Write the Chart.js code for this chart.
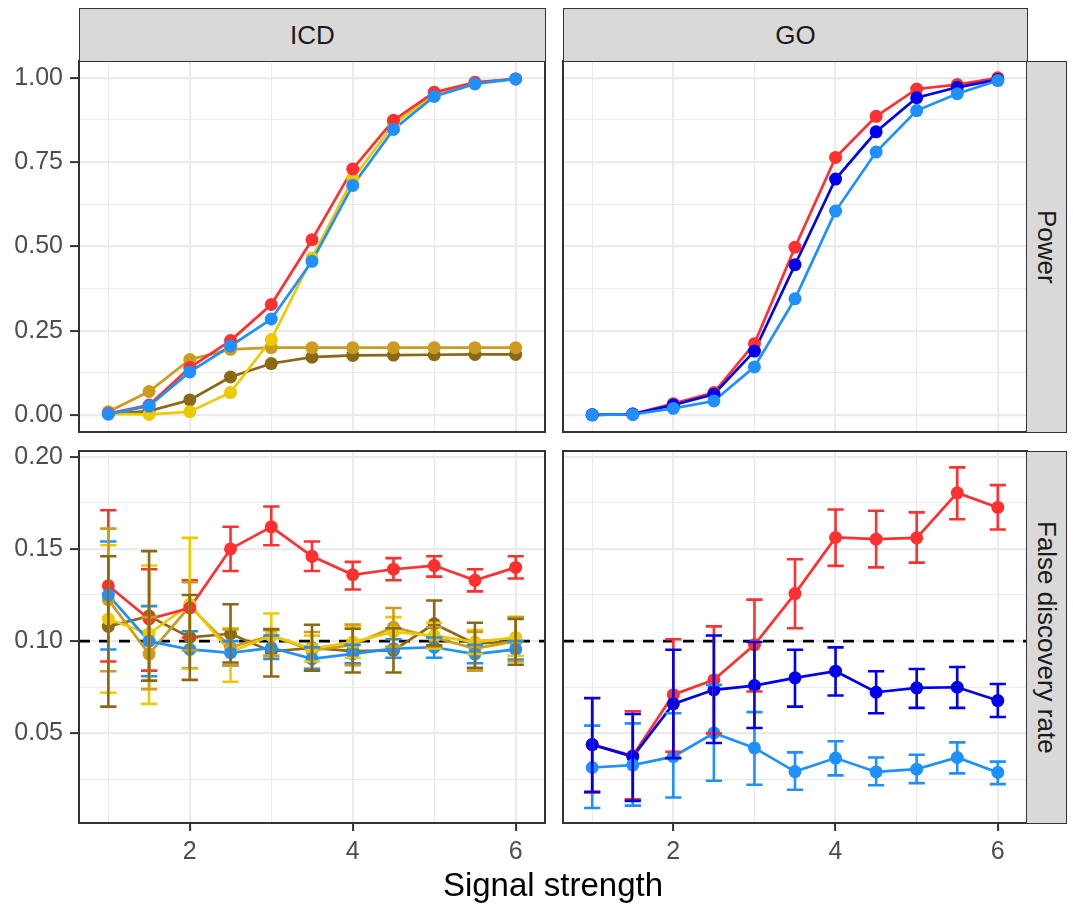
<!DOCTYPE html>
<html>
<head>
<meta charset="utf-8">
<script src="https://cdn.jsdelivr.net/npm/chart.js@4.4.1/dist/chart.umd.min.js"></script>
<style>
  body { margin: 0; background: #fff; }
  #wrap { position: relative; width: 1073px; height: 909px; font-family: 'Liberation Sans', Arial, sans-serif; }
  canvas { position: absolute; }
  .strip { position: absolute; background: #D9D9D9; border: 1.5px solid #333; box-sizing: border-box;
           color: #1A1A1A; font-size: 26px; display: flex; align-items: center; justify-content: center; }
  .vtext { writing-mode: vertical-rl; }
  #xtitle { position: absolute; left: 79px; width: 948px; top: 868px; text-align: center; font-size: 33px; line-height: 1; color: #000; }
</style>
</head>
<body>
<div id="wrap">
  <canvas id="icdPower" width="555" height="391" style="left:0;top:51px"></canvas>
  <canvas id="goPower" width="484" height="391" style="left:553px;top:51px"></canvas>
  <canvas id="icdFdr" width="555" height="432" style="left:0;top:441px"></canvas>
  <canvas id="goFdr" width="484" height="432" style="left:553px;top:441px"></canvas>
  <div class="strip" style="left:79px;top:8px;width:467px;height:54px">ICD</div>
  <div class="strip" style="left:563px;top:8px;width:465px;height:54px">GO</div>
  <div class="strip" style="left:1026px;top:61px;width:41px;height:372px"><span class="vtext">Power</span></div>
  <div class="strip" style="left:1026px;top:451px;width:41px;height:373px"><span class="vtext">False discovery rate</span></div>
  <div id="xtitle">Signal strength</div>
</div>
<script>
// signal strength values (x)
const signal = [1, 1.5, 2, 2.5, 3, 3.5, 4, 4.5, 5, 5.5, 6];
const xGrid = [1, 2, 3, 4, 5, 6];
const xLabels = [2, 4, 6];
const powerGrid = [0, 0.125, 0.25, 0.375, 0.5, 0.625, 0.75, 0.875, 1];
const powerLabels = [0, 0.25, 0.5, 0.75, 1];
const fdrGrid = [0.025, 0.05, 0.075, 0.1, 0.125, 0.15, 0.175, 0.2];
const fdrLabels = [0.05, 0.1, 0.15, 0.2];
const fdrTarget = 0.1;

// ICD power
const icdPowerRed       = [0.005, 0.030, 0.141, 0.221, 0.328, 0.520, 0.730, 0.874, 0.957, 0.987, 0.997];
const icdPowerDodger    = [0.003, 0.027, 0.128, 0.205, 0.285, 0.456, 0.681, 0.847, 0.945, 0.982, 0.997];
const icdPowerGold      = [0.004, 0.002, 0.010, 0.067, 0.224, 0.466, 0.700, 0.862, 0.950, 0.985, 0.997];
const icdPowerGoldenrod = [0.010, 0.070, 0.165, 0.195, 0.200, 0.200, 0.200, 0.200, 0.200, 0.200, 0.200];
const icdPowerBrown     = [0.004, 0.012, 0.045, 0.113, 0.153, 0.172, 0.177, 0.178, 0.179, 0.180, 0.180];

// GO power
const goPowerRed    = [0.001, 0.003, 0.034, 0.067, 0.212, 0.498, 0.764, 0.886, 0.967, 0.980, 1.000];
const goPowerBlue   = [0.001, 0.003, 0.030, 0.062, 0.190, 0.446, 0.700, 0.840, 0.941, 0.972, 0.995];
const goPowerDodger = [0.001, 0.002, 0.020, 0.042, 0.143, 0.345, 0.605, 0.780, 0.903, 0.953, 0.992];

// ICD false discovery rate: estimate, lower, upper
const icdFdrRed       = [0.130, 0.112, 0.118, 0.150, 0.162, 0.146, 0.136, 0.139, 0.141, 0.133, 0.140];
const icdFdrRedLo     = [0.089, 0.084, 0.102, 0.138, 0.152, 0.138, 0.128, 0.133, 0.135, 0.127, 0.134];
const icdFdrRedHi     = [0.171, 0.139, 0.133, 0.162, 0.173, 0.154, 0.143, 0.145, 0.146, 0.139, 0.146];
const icdFdrDodger    = [0.125, 0.100, 0.0955, 0.0937, 0.0964, 0.0904, 0.0931, 0.0959, 0.0967, 0.0930, 0.0955];
const icdFdrDodgerLo  = [0.0955, 0.081, 0.0853, 0.0868, 0.0904, 0.085, 0.088, 0.091, 0.091, 0.088, 0.090];
const icdFdrDodgerHi  = [0.154, 0.119, 0.1054, 0.100, 0.1031, 0.0966, 0.098, 0.101, 0.102, 0.098, 0.100];
const icdFdrGold      = [0.112, 0.104, 0.120, 0.094, 0.103, 0.096, 0.0995, 0.105, 0.103, 0.0995, 0.102];
const icdFdrGoldLo    = [0.072, 0.066, 0.085, 0.078, 0.092, 0.089, 0.091, 0.097, 0.096, 0.093, 0.092];
const icdFdrGoldHi    = [0.152, 0.141, 0.156, 0.107, 0.115, 0.103, 0.108, 0.113, 0.110, 0.106, 0.113];
const icdFdrGoldenrod   = [0.1225, 0.093, 0.119, 0.0967, 0.103, 0.095, 0.098, 0.1076, 0.102, 0.096, 0.100];
const icdFdrGoldenrodLo = [0.0837, 0.074, 0.095, 0.087, 0.092, 0.084, 0.087, 0.097, 0.097, 0.084, 0.089];
const icdFdrGoldenrodHi = [0.161, 0.113, 0.132, 0.1063, 0.106, 0.105, 0.109, 0.118, 0.1076, 0.105, 0.113];
const icdFdrBrown     = [0.108, 0.1136, 0.102, 0.104, 0.0944, 0.0964, 0.0946, 0.095, 0.1094, 0.0986, 0.100];
const icdFdrBrownLo   = [0.0645, 0.0786, 0.079, 0.0884, 0.0808, 0.084, 0.083, 0.083, 0.0977, 0.0855, 0.0872];
const icdFdrBrownHi   = [0.146, 0.1488, 0.125, 0.120, 0.1065, 0.1089, 0.1067, 0.107, 0.122, 0.110, 0.112];

// GO false discovery rate
const goFdrRed      = [0.0439, 0.0379, 0.071, 0.079, 0.098, 0.1258, 0.1562, 0.1553, 0.156, 0.1804, 0.1725];
const goFdrRedLo    = [0.018, 0.0143, 0.040, 0.050, 0.0727, 0.107, 0.1408, 0.140, 0.1426, 0.1661, 0.1605];
const goFdrRedHi    = [0.069, 0.062, 0.101, 0.108, 0.1225, 0.1444, 0.1714, 0.1707, 0.1698, 0.1942, 0.1846];
const goFdrBlue     = [0.0439, 0.0374, 0.066, 0.0736, 0.0759, 0.0801, 0.0837, 0.0723, 0.0747, 0.0750, 0.0678];
const goFdrBlueLo   = [0.0183, 0.0134, 0.0366, 0.0448, 0.0529, 0.0645, 0.0705, 0.0609, 0.0638, 0.0638, 0.0589];
const goFdrBlueHi   = [0.0692, 0.0605, 0.0953, 0.1031, 0.0995, 0.0953, 0.0966, 0.0837, 0.0849, 0.086, 0.0768];
const goFdrDodger   = [0.0315, 0.0328, 0.0374, 0.0502, 0.0421, 0.0293, 0.0366, 0.0291, 0.0306, 0.0369, 0.0288];
const goFdrDodgerLo = [0.0095, 0.0108, 0.0152, 0.0243, 0.0221, 0.0194, 0.0272, 0.0219, 0.0230, 0.0283, 0.0225];
const goFdrDodgerHi = [0.0542, 0.0554, 0.0609, 0.0763, 0.0615, 0.0397, 0.0457, 0.0369, 0.0384, 0.0451, 0.0347];

const RED = '#FF3030', DODGER = '#1E90FF', BLUE = '#0000EE';
const GOLD = '#EEC900', GOLDENROD = '#CD9B1D', BROWN = '#8B6914';
const FONT = "'Liberation Sans', Arial, sans-serif";

function near(list, v) {
    return list.some(t => Math.abs(t - v) < 1e-9);
}

// one facet panel; series listed bottom to top
function makePanel(id, o) {
    const datasets = [];
    const n = o.series.length;
    o.series.forEach((s, k) => {
        const pts = signal.map((x, i) => ({ x: x, y: s.y[i] }));
        datasets.push({ data: pts, borderColor: s.color, borderWidth: 2.7, pointRadius: 0, order: 100 + n - k });
        datasets.push({ data: pts, showLine: false, pointRadius: 6.5, pointBorderWidth: 0,
                        pointBackgroundColor: s.color, order: n - k });
    });

    const extras = {
        id: 'extras_' + id,
        beforeDatasetsDraw(chart) {
            if (o.hline == null) return;
            const { ctx, chartArea: a, scales } = chart;
            const y = scales.y.getPixelForValue(o.hline);
            ctx.save();
            ctx.strokeStyle = '#000';
            ctx.lineWidth = 2.6;
            ctx.setLineDash([11, 9]);
            ctx.beginPath();
            ctx.moveTo(a.left, y);
            ctx.lineTo(a.right, y);
            ctx.stroke();
            ctx.restore();
        },
        afterDatasetsDraw(chart) {
            const { ctx, chartArea: a, scales } = chart;
            ctx.save();
            ctx.beginPath();
            ctx.rect(a.left, a.top, a.right - a.left, a.bottom - a.top);
            ctx.clip();
            (o.bars || []).forEach(b => {
                ctx.strokeStyle = b.color;
                ctx.lineWidth = 2.6;
                signal.forEach((x, i) => {
                    const xl = scales.x.getPixelForValue(x - 0.1);
                    const xc = scales.x.getPixelForValue(x);
                    const xr = scales.x.getPixelForValue(x + 0.1);
                    const yl = scales.y.getPixelForValue(b.lo[i]);
                    const yh = scales.y.getPixelForValue(b.hi[i]);
                    ctx.beginPath();
                    ctx.moveTo(xl, yh); ctx.lineTo(xr, yh);
                    ctx.moveTo(xc, yh); ctx.lineTo(xc, yl);
                    ctx.moveTo(xl, yl); ctx.lineTo(xr, yl);
                    ctx.stroke();
                });
            });
            ctx.restore();
        },
        afterDraw(chart) {
            const { ctx, chartArea: a } = chart;
            ctx.save();
            ctx.strokeStyle = '#333333';
            ctx.lineWidth = 2;
            ctx.strokeRect(a.left, a.top, a.right - a.left, a.bottom - a.top);
            ctx.restore();
        }
    };

    new Chart(document.getElementById(id), {
        type: 'line',
        data: { datasets: datasets },
        options: {
            responsive: false,
            animation: false,
            devicePixelRatio: 1,
            events: [],
            layout: { padding: o.padding },
            plugins: { legend: { display: false }, tooltip: { enabled: false } },
            scales: {
                x: {
                    type: 'linear', min: 0.64, max: 6.36,
                    afterBuildTicks: s => { s.ticks = xGrid.map(v => ({ value: v })); },
                    afterFit: s => {
                        s.height = o.bottom ? 50 : 0;
                        s.paddingLeft = 0; s.paddingRight = 0;
                    },
                    border: { display: false },
                    grid: {
                        color: '#EBEBEB',
                        lineWidth: c => near(xLabels, c.tick.value) ? 2.2 : 1.1,
                        drawTicks: o.bottom, tickLength: 8, tickWidth: 2,
                        tickColor: c => near(xLabels, c.tick.value) ? '#333333' : 'rgba(0,0,0,0)'
                    },
                    ticks: {
                        display: o.bottom, autoSkip: false, maxRotation: 0, padding: 6,
                        color: '#4D4D4D', font: { family: FONT, size: 25 },
                        callback: v => near(xLabels, v) ? String(v) : ''
                    }
                },
                y: {
                    type: 'linear', min: o.yMin, max: o.yMax,
                    afterBuildTicks: s => { s.ticks = o.yGrid.map(v => ({ value: v })); },
                    afterFit: s => {
                        s.width = o.left ? 79 : 0;
                        s.paddingTop = 0; s.paddingBottom = 0;
                    },
                    border: { display: false },
                    grid: {
                        color: '#EBEBEB',
                        lineWidth: c => near(o.yLabels, c.tick.value) ? 2.2 : 1.1,
                        drawTicks: o.left, tickLength: 9, tickWidth: 2,
                        tickColor: c => near(o.yLabels, c.tick.value) ? '#333333' : 'rgba(0,0,0,0)'
                    },
                    ticks: {
                        display: o.left, autoSkip: false, padding: 7,
                        color: '#4D4D4D', font: { family: FONT, size: 25 },
                        callback: v => near(o.yLabels, v) ? v.toFixed(2) : ''
                    }
                }
            }
        },
        plugins: [extras]
    });
}

makePanel('icdPower', {
    left: true, bottom: false, padding: { top: 10, right: 10, bottom: 10, left: 0 },
    yMin: -0.05, yMax: 1.05, yGrid: powerGrid, yLabels: powerLabels,
    series: [
        { color: BROWN, y: icdPowerBrown },
        { color: GOLDENROD, y: icdPowerGoldenrod },
        { color: GOLD, y: icdPowerGold },
        { color: RED, y: icdPowerRed },
        { color: DODGER, y: icdPowerDodger }
    ]
});

makePanel('goPower', {
    left: false, bottom: false, padding: { top: 10, right: 10, bottom: 10, left: 10 },
    yMin: -0.05, yMax: 1.05, yGrid: powerGrid, yLabels: powerLabels,
    series: [
        { color: RED, y: goPowerRed },
        { color: BLUE, y: goPowerBlue },
        { color: DODGER, y: goPowerDodger }
    ]
});

makePanel('icdFdr', {
    left: true, bottom: true, padding: { top: 10, right: 10, bottom: 0, left: 0 },
    yMin: 0.0014, yMax: 0.2031, yGrid: fdrGrid, yLabels: fdrLabels, hline: fdrTarget,
    series: [
        { color: BROWN, y: icdFdrBrown },
        { color: GOLDENROD, y: icdFdrGoldenrod },
        { color: GOLD, y: icdFdrGold },
        { color: RED, y: icdFdrRed },
        { color: DODGER, y: icdFdrDodger }
    ],
    bars: [
        { color: DODGER, lo: icdFdrDodgerLo, hi: icdFdrDodgerHi },
        { color: RED, lo: icdFdrRedLo, hi: icdFdrRedHi },
        { color: GOLD, lo: icdFdrGoldLo, hi: icdFdrGoldHi },
        { color: GOLDENROD, lo: icdFdrGoldenrodLo, hi: icdFdrGoldenrodHi },
        { color: BROWN, lo: icdFdrBrownLo, hi: icdFdrBrownHi }
    ]
});

makePanel('goFdr', {
    left: false, bottom: true, padding: { top: 10, right: 10, bottom: 0, left: 10 },
    yMin: 0.0014, yMax: 0.2031, yGrid: fdrGrid, yLabels: fdrLabels, hline: fdrTarget,
    series: [
        { color: RED, y: goFdrRed },
        { color: BLUE, y: goFdrBlue },
        { color: DODGER, y: goFdrDodger }
    ],
    bars: [
        { color: DODGER, lo: goFdrDodgerLo, hi: goFdrDodgerHi },
        { color: RED, lo: goFdrRedLo, hi: goFdrRedHi },
        { color: BLUE, lo: goFdrBlueLo, hi: goFdrBlueHi }
    ]
});
</script>
</body>
</html>
